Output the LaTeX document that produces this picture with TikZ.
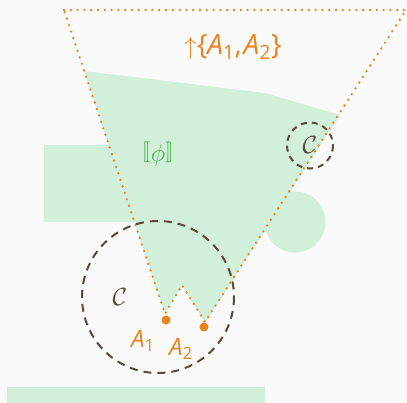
\documentclass[tikz,border=0pt]{standalone}
\usepackage{amsmath}
\usepackage{stmaryrd}
\usepackage{fontspec}
\setsansfont{Open Sans}
\definecolor{orng}{HTML}{E8841E}
\definecolor{lgreen}{HTML}{D2EFD9}
\definecolor{dgreen}{HTML}{3DB54A}
\definecolor{brwn}{HTML}{5A4A3A}
\definecolor{bgc}{HTML}{FAFAFA}
\tikzset{
  region/.style={fill=lgreen, draw=none},
  upset/.style={draw=orng, line width=2.6pt, line cap=round, dash pattern=on 0pt off 6.8pt},
  closure/.style={draw=brwn, line width=2pt, dash pattern=on 8pt off 6pt},
  closuresmall/.style={draw=brwn, line width=2pt, dash pattern=on 6pt off 5pt},
  pointdot/.style={circle, fill=orng, inner sep=0pt, minimum size=9pt},
  orlabel/.style={text=orng, font=\sffamily\fontsize{24}{28}\selectfont, inner sep=0pt},
  clabel/.style={text=brwn, inner sep=0pt, font=\fontsize{27}{30}\selectfont}
}
\begin{document}
\begin{tikzpicture}[x=1pt,y=-1pt]
\useasboundingbox (0,0) rectangle (407,402);
\fill[bgc] (0,0) rectangle (407,402);
% green regions
\fill[region] (44,145) rectangle (140,222);
\fill[region] (295,222) circle (30.5);
\fill[region] (7,387) rectangle (265,410);
\fill[region] (84,71) -- (265,93) -- (340,115) -- (205,323) -- (182,285) -- (165,314) -- cycle;
% coordinates
\coordinate (tl) at (64,10);
\coordinate (tr) at (406,10);
\coordinate (n) at (182,285);
\node[pointdot] (a1) at (166,320) {};
\node[pointdot] (a2) at (204,327) {};
\coordinate (t1) at (165,314);
\coordinate (t2) at (205,322);
% dotted upset outline
\draw[upset] (tl) -- (tr) -- (t2) -- (n) -- (t1) -- cycle;
% dashed closures
\draw[closure] (158,297) circle (76);
\draw[closuresmall] (310,145.5) circle (23);
% labels
\node[orlabel, font=\sffamily\fontsize{28}{30}\selectfont] (up) at (233,47) {$\uparrow$\{\textit{A}\textsubscript{1},\kern2pt\textit{A}\textsubscript{2}\}};
\node[text=dgreen, inner sep=0pt] (phi) at (158,154) {\raisebox{4.5pt}{\fontsize{20}{24}\selectfont$\llbracket$}{\fontsize{28}{32}\selectfont$\phi$}\raisebox{4.5pt}{\fontsize{20}{24}\selectfont$\rrbracket$}};
\node[clabel] (c1) at (120,297) {$\mathcal{C}$};
\node[clabel] (c2) at (310,145) {$\mathcal{C}$};
\node[orlabel] (l1) at (143,341) {\textit{A}\textsubscript{1}};
\node[orlabel] (l2) at (181,349) {\textit{A}\textsubscript{2}};
\end{tikzpicture}
\end{document}
